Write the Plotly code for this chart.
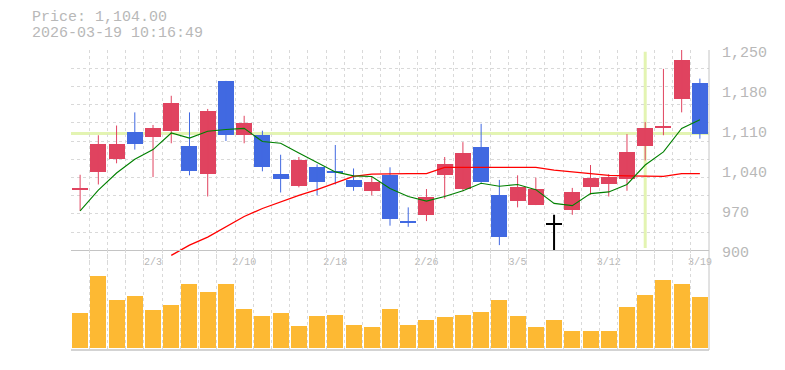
import plotly.graph_objects as go

# ---------------- data ----------------
dates = ["1/28", "1/29", "1/30", "2/2", "2/3", "2/4", "2/5", "2/6", "2/9", "2/10",
         "2/12", "2/13", "2/16", "2/17", "2/18", "2/19", "2/20", "2/24", "2/25", "2/26",
         "2/27", "3/2", "3/3", "3/4", "3/5", "3/6", "3/9", "3/10", "3/11", "3/12",
         "3/13", "3/16", "3/17", "3/18", "3/19"]
opens = [1006, 1036, 1060, 1106, 1098, 1109, 1082, 1034, 1195, 1101,
         1102, 1033, 1013, 1046, 1039, 1023, 1003, 1032, 952, 962,
         1031, 1007, 1081, 997, 987, 980, 947, 971, 1010, 1015,
         1025, 1083, 1113, 1165, 1192]
highs = [1032, 1101, 1118, 1141, 1119, 1170, 1141, 1147, 1196, 1135,
         1109, 1067, 1063, 1050, 1084, 1043, 1028, 1045, 975, 1007,
         1063, 1089, 1121, 1023, 1031, 1027, 962, 1009, 1049, 1033,
         1103, 1124, 1217, 1252, 1200]
lows = [969, 1015, 1052, 1076, 1028, 1087, 1031, 994, 1091, 1087,
        1038, 1001, 1010, 996, 1015, 1004, 996, 943, 941, 951,
        990, 1003, 1018, 909, 975, 979, 899, 962, 997, 994,
        1004, 1057, 1101, 1141, 1095]
closes = [1009, 1086, 1086, 1085, 1114, 1158, 1039, 1144, 1101, 1123,
          1045, 1025, 1058, 1020, 1035, 1011, 1020, 955, 948, 993,
          1051, 1070, 1020, 924, 1010, 1007, 947, 1002, 1027, 1028,
          1072, 1114, 1118, 1233, 1104]
ma5 = [969, 1005, 1035, 1059, 1076, 1105, 1096, 1108, 1111, 1113,
       1090, 1087, 1070, 1054, 1037, 1030, 1029, 1008, 994, 986,
       994, 1004, 1017, 1012, 1015, 1006, 982, 978, 999, 1002,
       1015, 1049, 1072, 1113, 1128]
ma25 = [None, None, None, None, None, 891, 909, 923, 941, 959,
        973, 985, 996, 1006, 1018, 1029, 1033, 1034, 1034, 1034,
        1045, 1045, 1045, 1045, 1045, 1045, 1040, 1037, 1034, 1031,
        1030, 1030, 1029, 1034, 1034]
volumes = [105, 213, 144, 156, 114, 129, 189, 165, 189, 117,
           96, 105, 66, 96, 99, 69, 63, 117, 69, 84,
           93, 99, 108, 144, 96, 63, 84, 51, 51, 51,
           123, 159, 201, 189, 153]  # thousand shares
price_ticks = [900, 970, 1040, 1110, 1180, 1250]
label_every = 5
label_start = 4
last_price = 1104.00
timestamp = "2026-03-19 10:16:49"
cursor_index = 31

# ---------------- styles ----------------
UP = "#e0435f"
DOWN = "#4169e1"
EVEN = "#000000"
VOLC = "#fdb933"
GRID = "#d9d9d9"
FRAME = "#c4c4c4"
TXT = "#b8b8b8"
CROSS = "#e3f4b2"
MONO = "Liberation Mono, DejaVu Sans Mono, monospace"

OFF = 8  # page body margin
W, H = 785, 370
# target screen positions: plot left 71, right 709, top 50, bottom 350
ML, MR, MT = 71 - OFF, W - (709 - OFF), 50 - OFF
MB = H - (350 - OFF)
PH = H - MT - MB
ymin, ymax = price_ticks[0], price_ticks[-1]
pos_base = (350 - 250.3) / PH          # paper position of the price baseline
ext = 20                               # price units drawn below baseline
db = pos_base - ext * (200 / (ymax - ymin)) / PH

n = len(dates)
xs = list(range(n))
bw = 0.877

fig = go.Figure()

def is_up(o, c): return c > o
def is_down(o, c): return c < o
def is_even(o, c): return c == o

groups = ((UP, is_up), (DOWN, is_down), (EVEN, is_even))

# wicks
for col, cond in groups:
    wx, wy = [], []
    for i in xs:
        if cond(opens[i], closes[i]):
            wx += [i, i, None]
            wy += [lows[i], highs[i], None]
    fig.add_trace(go.Scatter(x=wx, y=wy, mode="lines",
                             line=dict(color=col, width=2 if col == EVEN else 1),
                             xaxis="x", yaxis="y", hoverinfo="skip", showlegend=False))

# bodies
for col, cond in groups:
    bx, bb, bh = [], [], []
    for i in xs:
        if cond(opens[i], closes[i]):
            lo = min(opens[i], closes[i])
            h = abs(closes[i] - opens[i])
            minh = 3
            if h < minh:
                lo = lo - (minh - h) / 2
                h = minh
            bx.append(i); bb.append(lo); bh.append(h)
    fig.add_trace(go.Bar(x=bx, y=bh, base=bb, width=bw, marker=dict(color=col, line=dict(width=0)),
                         xaxis="x", yaxis="y", hoverinfo="skip", showlegend=False))

# moving averages
fig.add_trace(go.Scatter(x=xs, y=ma25, mode="lines", line=dict(color="#ff0000", width=1.3),
                         xaxis="x", yaxis="y", hoverinfo="skip", showlegend=False, connectgaps=False))
fig.add_trace(go.Scatter(x=xs, y=ma5, mode="lines", line=dict(color="#008000", width=1.1),
                         xaxis="x", yaxis="y", hoverinfo="skip", showlegend=False))

# volume
fig.add_trace(go.Bar(x=xs, y=volumes, width=bw, marker=dict(color=VOLC, line=dict(width=0)),
                     xaxis="x2", yaxis="y2", hoverinfo="skip", showlegend=False))

half_ticks = [i - 0.5 for i in range(n)]
grid_levels = [ymax - k * (ymax - ymin) / 11 for k in range(11)]
tick_idx = list(range(label_start, n, label_every))

minor_x = dict(tickmode="array", tickvals=half_ticks, showgrid=True, gridcolor=GRID,
               griddash="3px,3px", gridwidth=1, ticks="")

annotations = [
    dict(xref="paper", yref="paper", x=0, y=(350 - 18) / PH, xshift=30 - 71,
         xanchor="left", yanchor="middle", showarrow=False,
         text=f"Price: {last_price:,.2f}", font=dict(family=MONO, size=15, color=TXT)),
    dict(xref="paper", yref="paper", x=0, y=(350 - 33) / PH, xshift=30 - 71,
         xanchor="left", yanchor="middle", showarrow=False,
         text=timestamp, font=dict(family=MONO, size=15, color=TXT)),
]
for v in price_ticks:
    annotations.append(dict(xref="paper", yref="y", x=1, y=v, xshift=11, yshift=-3,
                            xanchor="left", yanchor="middle", showarrow=False,
                            text=f"{v:,}", font=dict(family=MONO, size=15, color=TXT)))

fig.update_layout(
    width=W, height=H,
    margin=dict(l=ML, r=MR, t=MT, b=MB, autoexpand=False),
    paper_bgcolor="white", plot_bgcolor="rgba(0,0,0,0)",
    barmode="overlay", bargap=0,
    showlegend=False,
    xaxis=dict(domain=[0, 1], range=[-0.5, n - 0.5], anchor="free", position=pos_base,
               tickmode="array", tickvals=tick_idx, ticktext=[dates[i] for i in tick_idx],
               showgrid=False, zeroline=False, showline=True, linecolor=FRAME, linewidth=1,
               ticks="", ticklabelstandoff=2, automargin=False,
               tickfont=dict(family=MONO, size=10, color=TXT),
               minor=minor_x),
    yaxis=dict(domain=[db, 1], range=[ymin - ext, ymax], side="right", anchor="x",
               tickmode="array", tickvals=price_ticks, showticklabels=False,
               showgrid=False, zeroline=False, showline=False, ticks="", automargin=False,
               minor=dict(tickmode="array", tickvals=grid_levels, showgrid=True,
                          gridcolor=GRID, griddash="3px,3px", gridwidth=1, ticks="")),
    xaxis2=dict(domain=[0, 1], matches="x", anchor="y2", showticklabels=False,
                showgrid=False, zeroline=False, showline=False, ticks="", automargin=False,
                tickmode="array", tickvals=tick_idx, minor=minor_x),
    yaxis2=dict(domain=[0, pos_base], range=[-6, 292], showticklabels=False, showgrid=False,
                zeroline=False, showline=False, ticks="", automargin=False),
    shapes=[
        dict(type="line", xref="paper", yref="y", x0=0, x1=1, y0=last_price, y1=last_price,
             line=dict(color=CROSS, width=3), layer="below"),
        dict(type="line", xref="x", yref="y", x0=cursor_index, x1=cursor_index, y0=ymin + 4, y1=ymax - 3,
             line=dict(color=CROSS, width=3), layer="below"),
        dict(type="line", xref="paper", yref="paper", x0=1, x1=1, y0=0, y1=1,
             line=dict(color=FRAME, width=1)),
        dict(type="line", xref="paper", yref="paper", x0=0, x1=1, y0=0, y1=0,
             line=dict(color=FRAME, width=1.5)),
    ],
    annotations=annotations,
)

fig.write_html("out.html")
